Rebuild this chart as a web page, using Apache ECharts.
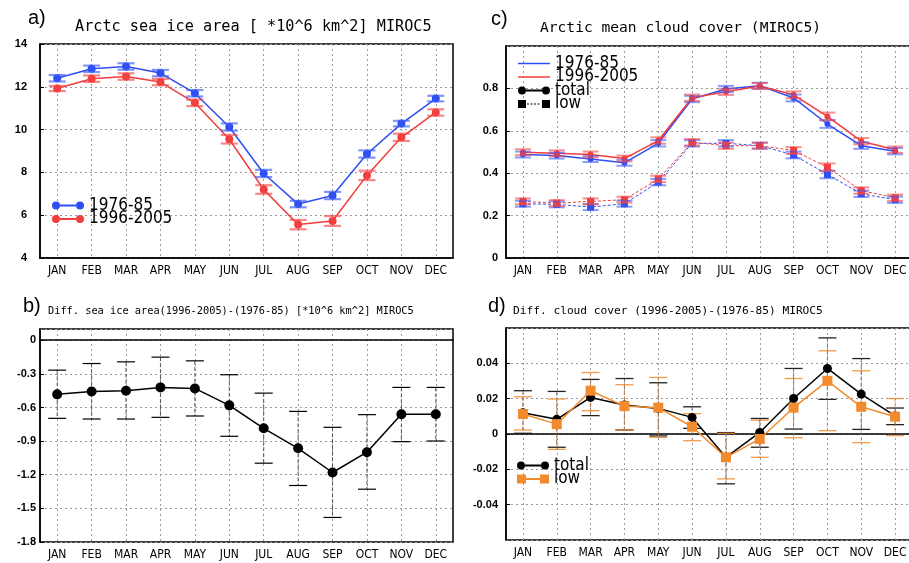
<!DOCTYPE html>
<html>
<head>
<meta charset="utf-8">
<title>MIROC5 sea ice and cloud cover</title>
<script src="https://cdn.jsdelivr.net/npm/echarts@6/dist/echarts.min.js"></script>
<style>body{margin:0;background:#fff}</style>
</head>
<body>
<div id="main" style="width:909px;height:563px"></div>
<script>
var months = ['JAN', 'FEB', 'MAR', 'APR', 'MAY', 'JUN', 'JUL', 'AUG', 'SEP', 'OCT', 'NOV', 'DEC'];

// a) sea ice area (10^6 km^2), mean and half-width of error bar
var ice7685 = [12.40, 12.84, 12.95, 12.64, 11.70, 10.12, 7.95, 6.52, 6.92, 8.86, 10.28, 11.45];
var ice7685Err = [0.15, 0.15, 0.15, 0.15, 0.15, 0.17, 0.17, 0.15, 0.17, 0.17, 0.13, 0.13];
var ice9605 = [11.92, 12.38, 12.48, 12.22, 11.25, 9.55, 7.20, 5.56, 5.73, 7.86, 9.64, 10.80];
var ice9605Err = [0.12, 0.15, 0.15, 0.15, 0.15, 0.20, 0.20, 0.22, 0.23, 0.22, 0.17, 0.15];

// c) cloud cover fraction
var tot7685 = [0.488, 0.483, 0.467, 0.449, 0.541, 0.750, 0.797, 0.813, 0.755, 0.632, 0.530, 0.504];
var tot9605 = [0.499, 0.494, 0.488, 0.469, 0.554, 0.756, 0.784, 0.811, 0.770, 0.668, 0.551, 0.511];
var low7685 = [0.256, 0.253, 0.240, 0.256, 0.358, 0.541, 0.541, 0.530, 0.486, 0.394, 0.303, 0.275];
var low9605 = [0.267, 0.259, 0.267, 0.275, 0.373, 0.546, 0.530, 0.530, 0.507, 0.428, 0.318, 0.284];
var cloudErr = [0.014, 0.014, 0.014, 0.014, 0.015, 0.015, 0.015, 0.014, 0.016, 0.018, 0.015, 0.015];

// b) difference in sea ice area
var iceDiff = [-0.483, -0.457, -0.451, -0.421, -0.430, -0.581, -0.786, -0.964, -1.180, -0.999, -0.661, -0.661];
var iceDiffHi = [-0.267, -0.208, -0.193, -0.151, -0.184, -0.308, -0.472, -0.635, -0.777, -0.664, -0.421, -0.421];
var iceDiffLo = [-0.697, -0.703, -0.703, -0.688, -0.676, -0.857, -1.097, -1.296, -1.581, -1.329, -0.905, -0.899];

// d) difference in cloud cover
var totDiff = [0.0120, 0.0083, 0.0207, 0.0164, 0.0145, 0.0094, -0.0132, 0.0009, 0.0201, 0.0371, 0.0226, 0.0102];
var totDiffHi = [0.0245, 0.0241, 0.0309, 0.0314, 0.0290, 0.0154, 0.0008, 0.0088, 0.0371, 0.0544, 0.0427, 0.0147];
var totDiffLo = [0.0004, -0.0075, 0.0104, 0.0023, -0.0011, 0.0032, -0.0282, -0.0075, 0.0028, 0.0196, 0.0026, 0.0053];
var lowDiff = [0.0113, 0.0056, 0.0245, 0.0158, 0.0149, 0.0041, -0.0132, -0.0028, 0.0149, 0.0301, 0.0154, 0.0098];
var lowDiffHi = [0.0211, 0.0198, 0.0348, 0.0279, 0.0320, 0.0115, 0.0004, 0.0078, 0.0314, 0.0471, 0.0358, 0.0201];
var lowDiffLo = [0.0023, -0.0087, 0.0132, 0.0023, -0.0019, -0.0038, -0.0254, -0.0132, -0.0021, 0.0019, -0.0049, -0.0009];

var BLUE = '#2e4ef2', RED = '#f23d3d', ORANGE = '#f28a2e';
var LEG_FONT = "'DejaVu Sans Condensed', 'Liberation Sans Narrow', 'DejaVu Sans', sans-serif";
var TITLE_FONT = "'DejaVu Sans Mono', monospace";

function withErr(vals, err) {
    return vals.map(function (v, i) { return [i, v - err[i], v + err[i]]; });
}
function range(lo, hi) {
    return lo.map(function (v, i) { return [i, v, hi[i]]; });
}

// error bar: vertical line plus two caps
function errorBar(capColor, capW, capLw, vColor, dash) {
    return function (params, api) {
        var hi = api.coord([api.value(0), api.value(2)]);
        var lo = api.coord([api.value(0), api.value(1)]);
        var x = hi[0];
        return {
            type: 'group',
            children: [
                { type: 'line', shape: { x1: x, y1: hi[1], x2: x, y2: lo[1] },
                  style: { stroke: vColor, lineWidth: 1, lineDash: dash } },
                { type: 'line', shape: { x1: x - capW, y1: hi[1], x2: x + capW, y2: hi[1] },
                  style: { stroke: capColor, lineWidth: capLw } },
                { type: 'line', shape: { x1: x - capW, y1: lo[1], x2: x + capW, y2: lo[1] },
                  style: { stroke: capColor, lineWidth: capLw } }
            ]
        };
    };
}
function barSeries(idx, data, fn, z) {
    return { type: 'custom', xAxisIndex: idx, yAxisIndex: idx, data: data,
             encode: { x: 0, y: [1, 2] }, renderItem: fn, silent: true, z: z };
}

function xAx(idx) {
    return {
        type: 'category', gridIndex: idx, data: months, boundaryGap: true,
        axisLine: { lineStyle: { color: '#000', width: 1.5 } },
        axisTick: { alignWithLabel: true, inside: true, length: 4, lineStyle: { color: '#000' } },
        axisLabel: { color: '#000', fontSize: 12, margin: 7, fontFamily: "'DejaVu Sans Condensed', 'DejaVu Sans', sans-serif" },
        splitLine: { show: true, alignWithLabel: true, lineStyle: { color: '#9a9a9a', type: [2, 3], width: 1 } }
    };
}
function yAx(idx, min, max, interval, margin, hideEnds) {
    return {
        type: 'value', gridIndex: idx, min: min, max: max, interval: interval,
        axisLine: { show: true, lineStyle: { color: '#000', width: 1.5 } },
        axisTick: { show: true, inside: true, length: 4, lineStyle: { color: '#000' } },
        axisLabel: { color: '#000', fontSize: 11, fontWeight: 'bold', margin: margin,
                     fontFamily: "'Liberation Sans', sans-serif",
                     showMaxLabel: !hideEnds.max, showMinLabel: !hideEnds.min },
        splitLine: { show: true, lineStyle: { color: '#9a9a9a', type: [2, 3], width: 1 } }
    };
}

var ICON_CIRC = 'path://M0,4a4,4 0 1,0 8,0a4,4 0 1,0 -8,0zM24,4a4,4 0 1,0 8,0a4,4 0 1,0 -8,0zM8,3h16v2h-16z';
var ICON_LINE = 'path://M0,0h32v1.5h-32z';
var ICON_SQ_DASH = 'path://M0,0h8v8h-8zM24,0h8v8h-8zM9,3.5h2v1h-2zM12.5,3.5h2v1h-2zM16,3.5h2v1h-2zM19.5,3.5h2v1h-2z';
var ICON_SQ = 'path://M0,0h9v9h-9zM23,0h9v9h-9zM9,3.5h14v2h-14z';

function txt(text, left, top, size, font) {
    return { text: text, left: left, top: top, padding: 0,
             textStyle: { fontSize: size, fontWeight: 'normal', color: '#000', fontFamily: font } };
}

var legText = { fontSize: 17, color: '#000', fontFamily: LEG_FONT };

function legend(left, top, itemH, items) {
    return { left: left, top: top, orient: 'vertical', padding: 0, itemGap: -3.5,
             itemWidth: 32, itemHeight: itemH, textStyle: legText, selectedMode: false, data: items };
}

var chart = echarts.init(document.getElementById('main'));
chart.setOption({
    backgroundColor: '#fff',
    animation: false,
    title: [
        txt('a)', 28, 8, 20, "'Liberation Sans', sans-serif"),
        txt('Arctc sea ice area [ *10^6 km^2] MIROC5', 75, 20, 15.2, TITLE_FONT),
        txt('c)', 491, 9, 20, "'Liberation Sans', sans-serif"),
        txt('Arctic mean cloud cover (MIROC5)', 540, 21, 14.6, TITLE_FONT),
        txt('b)', 23, 296, 20, "'Liberation Sans', sans-serif"),
        txt('Diff. sea ice area(1996-2005)-(1976-85) [*10^6 km^2] MIROC5', 48, 306, 10.3, TITLE_FONT),
        txt('d)', 488, 296, 20, "'Liberation Sans', sans-serif"),
        txt('Diff. cloud cover (1996-2005)-(1976-85) MIROC5', 513, 306, 11.2, TITLE_FONT)
    ],
    legend: [
        legend(52, 197, 8, [
            { name: '1976-85', icon: ICON_CIRC, itemStyle: { color: BLUE } },
            { name: '1996-2005', icon: ICON_CIRC, itemStyle: { color: RED } }]),
        legend(518, 55, 8, [
            { name: '1976-85', icon: ICON_LINE, itemStyle: { color: BLUE } },
            { name: '1996-2005', icon: ICON_LINE, itemStyle: { color: RED } },
            { name: 'total', icon: ICON_CIRC, itemStyle: { color: '#000' } },
            { name: 'low', icon: ICON_SQ_DASH, itemStyle: { color: '#000' } }]),
        legend(517, 457, 9, [
            { name: 'total', icon: ICON_CIRC, itemStyle: { color: '#000' } },
            { name: 'low', icon: ICON_SQ, itemStyle: { color: ORANGE } }])
    ],
    grid: [
        { left: 40, top: 44, width: 413, height: 214, show: true, borderColor: '#000', borderWidth: 1.5, outerBoundsMode: 'none' },
        { left: 506, top: 46, width: 406, height: 212, show: true, borderColor: '#000', borderWidth: 1.5, outerBoundsMode: 'none' },
        { left: 40, top: 329, width: 413, height: 213, show: true, borderColor: '#000', borderWidth: 1.5, outerBoundsMode: 'none' },
        { left: 506, top: 328, width: 406, height: 212, show: true, borderColor: '#000', borderWidth: 1.5, outerBoundsMode: 'none' }
    ],
    xAxis: [xAx(0), xAx(1), xAx(2), xAx(3)],
    yAxis: [
        yAx(0, 4, 14, 2, 13, {}),
        yAx(1, 0, 1, 0.2, 8, { max: true }),
        yAx(2, -1.8, 0.1, 0.3, 4, { max: true }),
        yAx(3, -0.06, 0.06, 0.02, 8, { max: true, min: true })
    ],
    series: [
        // a)
        { type: 'line', name: '1976-85', xAxisIndex: 0, yAxisIndex: 0, data: ice7685,
          color: BLUE, symbol: 'circle', symbolSize: 8, lineStyle: { width: 1.5 }, z: 3 },
        { type: 'line', name: '1996-2005', xAxisIndex: 0, yAxisIndex: 0, data: ice9605,
          color: RED, symbol: 'circle', symbolSize: 8, lineStyle: { width: 1.5 }, z: 3 },
        barSeries(0, withErr(ice7685, ice7685Err), errorBar('rgba(60,90,245,0.65)', 8.5, 2.2, 'rgba(60,90,245,0.65)', null), 4),
        barSeries(0, withErr(ice9605, ice9605Err), errorBar('rgba(245,70,70,0.65)', 8.5, 2.2, 'rgba(245,70,70,0.65)', null), 4),

        // c)
        { type: 'line', name: '1976-85', xAxisIndex: 1, yAxisIndex: 1, data: tot7685,
          color: BLUE, symbol: 'circle', symbolSize: 6, lineStyle: { width: 1.5 }, z: 3 },
        { type: 'line', name: '1976-85', xAxisIndex: 1, yAxisIndex: 1, data: low7685,
          color: BLUE, symbol: 'rect', symbolSize: 7, lineStyle: { width: 1, type: [3, 2] }, z: 3 },
        { type: 'line', name: '1996-2005', xAxisIndex: 1, yAxisIndex: 1, data: tot9605,
          color: RED, symbol: 'circle', symbolSize: 6, lineStyle: { width: 1.5 }, z: 3 },
        { type: 'line', name: '1996-2005', xAxisIndex: 1, yAxisIndex: 1, data: low9605,
          color: RED, symbol: 'rect', symbolSize: 7, lineStyle: { width: 1, type: [3, 2] }, z: 3 },
        barSeries(1, withErr(tot7685, cloudErr), errorBar('rgba(60,90,245,0.6)', 8, 2, 'rgba(60,90,245,0.6)', null), 4),
        barSeries(1, withErr(low7685, cloudErr), errorBar('rgba(60,90,245,0.6)', 8, 2, 'rgba(60,90,245,0.6)', null), 4),
        barSeries(1, withErr(tot9605, cloudErr), errorBar('rgba(245,70,70,0.6)', 8, 2, 'rgba(245,70,70,0.6)', null), 4),
        barSeries(1, withErr(low9605, cloudErr), errorBar('rgba(245,70,70,0.6)', 8, 2, 'rgba(245,70,70,0.6)', null), 4),

        // b)
        barSeries(2, range(iceDiffLo, iceDiffHi), errorBar('#000', 9, 1.2, '#555', [4, 2]), 2),
        { type: 'line', name: 'iceDiff', xAxisIndex: 2, yAxisIndex: 2, data: iceDiff,
          color: '#000', symbol: 'circle', symbolSize: 10, lineStyle: { width: 1.5 }, z: 3 },

        // d)
        barSeries(3, range(totDiffLo, totDiffHi), errorBar('#222', 9, 1.3, '#777', [4, 2]), 2),
        barSeries(3, range(lowDiffLo, lowDiffHi), errorBar('rgba(242,138,46,0.85)', 9, 1.3, 'rgba(200,120,60,0.7)', [4, 2]), 2),
        { type: 'line', name: 'total', xAxisIndex: 3, yAxisIndex: 3, data: totDiff,
          color: '#000', symbol: 'circle', symbolSize: 9, lineStyle: { width: 1.5 }, z: 3 },
        { type: 'line', name: 'low', xAxisIndex: 3, yAxisIndex: 3, data: lowDiff,
          color: ORANGE, symbol: 'rect', symbolSize: 10, lineStyle: { width: 1.5 }, z: 4 }
    ]
});
</script>
</body>
</html>
